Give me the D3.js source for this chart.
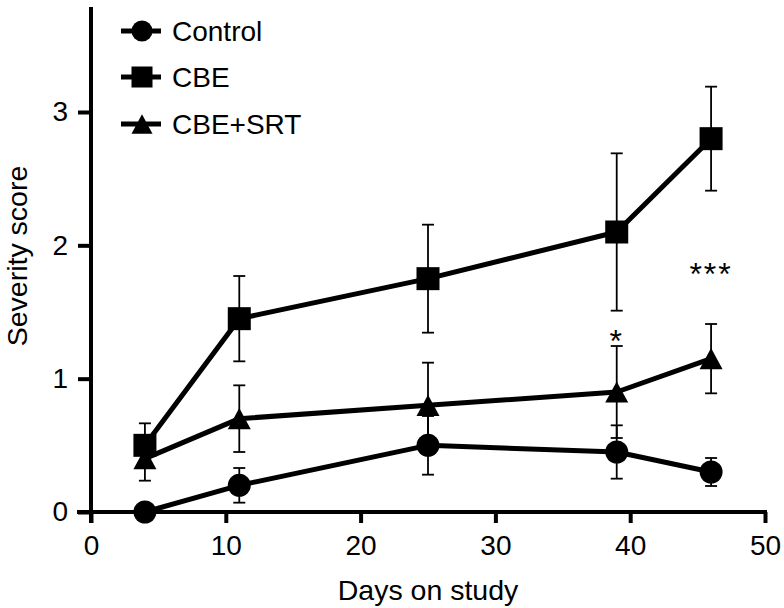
<!DOCTYPE html>
<html><head><meta charset="utf-8">
<script src="https://cdn.jsdelivr.net/npm/d3@7"></script>
<style>body{margin:0;background:#fff}svg{display:block}text{font-family:"Liberation Sans",Arial,Helvetica,sans-serif;fill:#000}</style>
</head><body><svg id="c" width="784" height="608"></svg>
<script>
const days = [4, 11, 25, 39, 46];
const seriesNames = ["Control", "CBE", "CBE+SRT"];
const controlMean = [0, 0.2, 0.5, 0.45, 0.3];
const controlErr  = [0, 0.13, 0.22, 0.2, 0.105];
const cbeMean = [0.5, 1.45, 1.75, 2.1, 2.8];
const cbeErr  = [0.165, 0.32, 0.405, 0.59, 0.39];
const srtMean = [0.4, 0.7, 0.8, 0.9, 1.15];
const srtErr  = [0.165, 0.25, 0.32, 0.345, 0.26];
const xTicks = [0, 10, 20, 30, 40, 50];
const yTicks = [0, 1, 2, 3];
const annotations = [{day: 39, value: 1.35, label: "*"}, {day: 46, value: 1.85, label: "***"}];

const svg = d3.select("#c");
const x = d3.scaleLinear().domain([0, 50]).range([91, 765]);
const y = d3.scaleLinear().domain([0, 3]).range([512, 112]);

const series = [
  {name: seriesNames[0], mean: controlMean, err: controlErr, shape: "circle"},
  {name: seriesNames[1], mean: cbeMean, err: cbeErr, shape: "square"},
  {name: seriesNames[2], mean: srtMean, err: srtErr, shape: "triangle"}
];

// axes
const xAxis = svg.append("g").attr("transform", "translate(0,512)")
  .call(d3.axisBottom(x).tickValues(xTicks).tickFormat(d3.format("d")).tickSize(11).tickSizeOuter(0).tickPadding(12));
const yAxis = svg.append("g").attr("transform", "translate(91,0)")
  .call(d3.axisLeft(y).tickValues(yTicks).tickFormat(d3.format("d")).tickSize(13).tickSizeOuter(0).tickPadding(10));
[xAxis, yAxis].forEach(g => {
  g.select(".domain").remove();
  g.selectAll(".tick line").attr("stroke", "#000").attr("stroke-width", 4);
  g.selectAll(".tick text").attr("font-size", 28).attr("font-family", "Liberation Sans, Arial, sans-serif");
});
svg.append("line").attr("x1", x(0) - 14).attr("x2", x(50) + 2).attr("y1", y(0)).attr("y2", y(0))
  .attr("stroke", "#000").attr("stroke-width", 4);
svg.append("line").attr("x1", x(0)).attr("x2", x(0)).attr("y1", y(0) + 11).attr("y2", 7)
  .attr("stroke", "#000").attr("stroke-width", 4);

svg.append("text").attr("x", (x(0) + x(50)) / 2).attr("y", 600).attr("text-anchor", "middle")
  .attr("font-size", 28.5).text("Days on study");
svg.append("text").attr("transform", "translate(27,256) rotate(-90)").attr("text-anchor", "middle")
  .attr("font-size", 28.5).text("Severity score");

// error bars
series.forEach(s => {
  const g = svg.append("g");
  days.forEach((d, i) => {
    if (s.err[i] <= 0) return;
    const lo = y(s.mean[i] - s.err[i]), hi = y(s.mean[i] + s.err[i]);
    g.append("line").attr("x1", x(d)).attr("x2", x(d)).attr("y1", lo).attr("y2", hi).attr("stroke", "#000").attr("stroke-width", 1.8);
    [lo, hi].forEach(yy => g.append("line").attr("x1", x(d) - 6).attr("x2", x(d) + 6).attr("y1", yy).attr("y2", yy).attr("stroke", "#000").attr("stroke-width", 1.8));
  });
});

// lines
const line = d3.line().x((d, i) => x(days[i])).y(d => y(d));
series.forEach(s => {
  svg.append("path").attr("d", line(s.mean)).attr("fill", "none").attr("stroke", "#000").attr("stroke-width", 5).attr("stroke-linejoin", "round");
});

// markers
function marker(g, shape, cx, cy, size) {
  if (shape === "triangle") {
    const w = size, h = size * 0.92;
    g.append("path").attr("d", `M${cx},${cy - h / 2}L${cx + w / 2},${cy + h / 2}L${cx - w / 2},${cy + h / 2}Z`).attr("fill", "#000");
  } else if (shape === "square") {
    g.append("rect").attr("x", cx - size / 2).attr("y", cy - size / 2).attr("width", size).attr("height", size).attr("fill", "#000");
  } else {
    g.append("circle").attr("cx", cx).attr("cy", cy).attr("r", size / 2).attr("fill", "#000");
  }
}
series.forEach(s => {
  const g = svg.append("g");
  days.forEach((d, i) => marker(g, s.shape, x(d), y(s.mean[i]), 23));
});

// annotations
annotations.forEach(a => {
  svg.append("text").attr("x", x(a.day)).attr("y", y(a.value) + 20).attr("text-anchor", "middle")
    .attr("font-size", 32).attr("letter-spacing", 2).text(a.label);
});

// legend
const legendY = [31, 77, 124];
series.forEach((s, i) => {
  const g = svg.append("g");
  g.append("line").attr("x1", 121).attr("x2", 161).attr("y1", legendY[i]).attr("y2", legendY[i]).attr("stroke", "#000").attr("stroke-width", 5);
  marker(g, s.shape, 142, legendY[i], 21);
  g.append("text").attr("x", 172).attr("y", legendY[i] + 10).attr("font-size", 28).text(s.name);
});
</script></body></html>
